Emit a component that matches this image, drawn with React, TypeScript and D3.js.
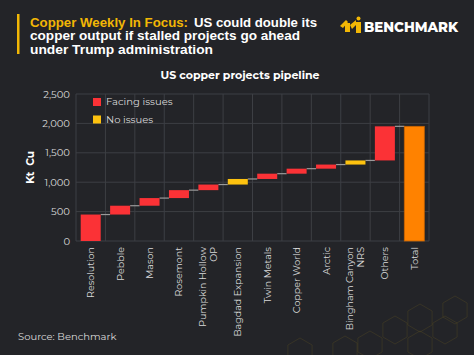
import React from "react";
import * as d3 from "d3";

const categories = [
  "Resolution",
  "Pebble",
  "Mason",
  "Rosemont",
  "Pumpkin Hollow\nOP",
  "Bagdad Expansion",
  "Twin Metals",
  "Copper World",
  "Arctic",
  "Bingham Canyon\nNRS",
  "Others",
  "Total",
];
const increments = [450, 150, 130, 135, 95, 95, 90, 85, 70, 70, 580];
const status = ["issues", "issues", "issues", "issues", "issues", "none", "issues", "issues", "issues", "none", "issues"];
const yTicks = [0, 500, 1000, 1500, 2000, 2500];

const W = 474;
const H = 355;
const BG = "#232428";
const RED = "#fb3236";
const YELLOW = "#fdc20f";
const ORANGE = "#ff8200";
const GRID = "#3d3f44";
const TEXT = "#d9d9d9";
const FONT = "Montserrat, 'Open Sans', sans-serif";
const TITLE_FONT = "'Liberation Sans', Arial, sans-serif";

export default function App() {
  const m = { left: 76, right: 429, top: 94, bottom: 241 };
  const x = d3.scaleBand<string>().domain(categories).range([m.left, m.right]).paddingInner(0.32).paddingOuter(0.16);
  const y = d3.scaleLinear().domain([0, 2500]).range([m.bottom, m.top]);
  const step = x.step();

  let cum = 0;
  const bars = increments.map((v, i) => {
    const start = cum;
    cum += v;
    return { name: categories[i], start, end: cum, color: status[i] === "none" ? YELLOW : RED };
  });
  const total = cum;
  bars.push({ name: categories[categories.length - 1], start: 0, end: total, color: ORANGE });

  const boundaries = d3.range(categories.length + 1).map((i) => m.left + i * step);

  const hexes = [
    [395, 330], [420, 318], [445, 330], [370, 345], [420, 345], [455, 310], [345, 350], [300, 352],
  ];
  const hexPath = (cx: number, cy: number, r: number) =>
    d3.range(6).map((k) => {
      const a = (Math.PI / 3) * k + Math.PI / 6;
      return [cx + r * Math.cos(a), cy + r * Math.sin(a)];
    }).map((p, k) => (k === 0 ? "M" : "L") + p[0].toFixed(1) + "," + p[1].toFixed(1)).join("") + "Z";

  return (
    <svg width={W} height={H} style={{ position: "absolute", left: 0, top: 0 }} fontFamily={FONT}>
      <rect width={W} height={H} fill={BG} />
      {/* decorative hexagons */}
      <g stroke="#6b5a22" strokeOpacity={0.35} fill="none" strokeWidth={0.8}>
        {hexes.map(([cx, cy], i) => (
          <path key={i} d={hexPath(cx, cy, 14)} />
        ))}
      </g>

      {/* title */}
      <rect x={17} y={14} width={2.5} height={40} fill="#f2b705" />
      <g fontFamily={TITLE_FONT} fontSize={12} fontWeight={700}>
        <text x={30} y={26.5} fill="#f2b705" textLength={158} lengthAdjust="spacingAndGlyphs">
          Copper Weekly In Focus:
        </text>
        <text x={194} y={26.5} fill="#ffffff" textLength={123} lengthAdjust="spacingAndGlyphs">
          US could double its
        </text>
        <text x={30} y={40.2} fill="#ffffff" textLength={270} lengthAdjust="spacingAndGlyphs">
          copper output if stalled projects go ahead
        </text>
        <text x={30} y={53.9} fill="#ffffff" textLength={183} lengthAdjust="spacingAndGlyphs">
          under Trump administration
        </text>
      </g>

      {/* logo */}
      <g transform="translate(340,17)">
        <path d="M0,9 L6,3 L8,5 L3,11 Z" fill="#f2b705" />
        <rect x={5} y={6} width={5} height={9} fill="#f2b705" />
        <path d="M10,8 L16,3 L16,8 L12,12 Z" fill="#f2b705" />
        <rect x={16} y={5} width={5} height={11} fill="#f2b705" />
        <circle cx={18.5} cy={1.5} r={2} fill="#f2b705" />
      </g>
      <text x={364} y={32} fontSize={15} fontWeight={800} fill="#ffffff" textLength={94} lengthAdjust="spacingAndGlyphs">
        BENCHMARK
      </text>

      {/* subtitle */}
      <text x={240} y={79} textAnchor="middle" fontSize={11} fontWeight={700} fill="#ffffff">
        US copper projects pipeline
      </text>

      {/* grid */}
      <g stroke={GRID} strokeWidth={1}>
        {yTicks.map((t) => (
          <line key={t} x1={m.left} x2={m.right} y1={y(t)} y2={y(t)} />
        ))}
        {boundaries.map((b, i) => (
          <line key={i} x1={b} x2={b} y1={m.top} y2={m.bottom} />
        ))}
      </g>

      {/* y ticks */}
      <g fontSize={10} fill={TEXT} textAnchor="end">
        {yTicks.map((t) => (
          <text key={t} x={70} y={y(t) + 3.5}>
            {d3.format(",")(t)}
          </text>
        ))}
      </g>
      <text
        transform={`translate(34,${(m.top + m.bottom) / 2}) rotate(-90)`}
        textAnchor="middle"
        fontSize={10.5}
        fontWeight={700}
        fill="#ffffff"
        style={{ whiteSpace: "pre" }}
      >
        {"Kt  Cu"}
      </text>

      {/* connectors */}
      <g stroke="#9a9a9a" strokeWidth={1.2}>
        {bars.slice(0, -1).map((b, i) => (
          <line
            key={i}
            x1={(x(b.name) as number) + x.bandwidth()}
            x2={x(bars[i + 1].name) as number}
            y1={y(b.end)}
            y2={y(b.end)}
          />
        ))}
      </g>

      {/* bars */}
      {bars.map((b, i) => (
        <rect
          key={i}
          x={x(b.name)}
          width={x.bandwidth()}
          y={y(b.end)}
          height={y(b.start) - y(b.end)}
          fill={b.color}
          stroke={i === bars.length - 1 ? "#c86400" : "none"}
          strokeWidth={0.8}
        />
      ))}

      {/* legend */}
      <rect x={93} y={98} width={8} height={8} fill={RED} />
      <text x={106} y={105} fontSize={10} fill={TEXT}>
        Facing issues
      </text>
      <rect x={93} y={115.5} width={8} height={8} fill={YELLOW} />
      <text x={106} y={122.5} fontSize={10} fill={TEXT}>
        No issues
      </text>

      {/* x labels */}
      <g fontSize={9.5} fill={TEXT}>
        {categories.map((c) => {
          const lines = c.split("\n");
          const cx = (x(c) as number) + x.bandwidth() / 2;
          return (
            <text key={c} transform={`translate(${cx},247) rotate(-90)`} textAnchor="end">
              {lines.map((l, k) => (
                <tspan key={k} x={0} y={3.5 + (k - (lines.length - 1) / 2) * 11}>
                  {l}
                </tspan>
              ))}
            </text>
          );
        })}
      </g>

      {/* source */}
      <text x={18} y={340} fontSize={10} fill={TEXT}>
        Source: Benchmark
      </text>
    </svg>
  );
}
